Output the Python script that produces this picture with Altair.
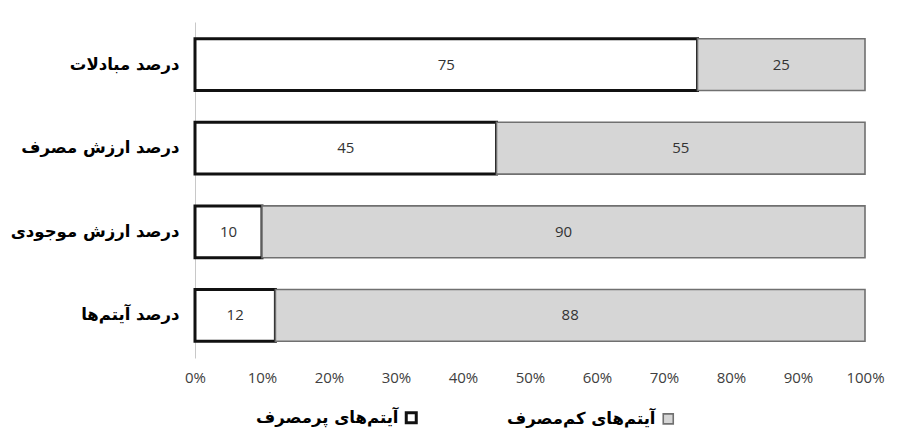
import altair as alt
import pandas as pd

categories = ["درصد مبادلات", "درصد ارزش مصرف", "درصد ارزش موجودی", "درصد آیتم‌ها"]
series_names = ["آیتم‌های پرمصرف", "آیتم‌های کم‌مصرف"]
high_values = [75, 45, 10, 12]
low_values = [25, 55, 90, 88]
x_ticks = [0, 10, 20, 30, 40, 50, 60, 70, 80, 90, 100]

rows = []
for c, h, l in zip(categories, high_values, low_values):
    rows.append({"cat": c, "series": series_names[0], "value": h, "ord": 0})
    rows.append({"cat": c, "series": series_names[1], "value": l, "ord": 1})
df = pd.DataFrame(rows)

base = alt.Chart(df).transform_stack(
    stack="value", groupby=["cat"], as_=["x0", "x1"], sort=[alt.SortField("ord")]
).transform_calculate(mid="(datum.x0 + datum.x1) / 2")

y_enc = alt.Y(
    "cat:N", sort=categories, title=None,
    scale=alt.Scale(paddingInner=0.38, paddingOuter=0.2),
    axis=alt.Axis(labelFont="DejaVu Sans", labelFontWeight="bold", labelFontSize=16.5,
                  labelColor="#000", labelPadding=16, labelLimit=300, ticks=False,
                  domainColor="#c8c8c8", domainWidth=1),
)

bars = base.mark_bar().encode(
    x=alt.X("x0:Q", title=None,
            scale=alt.Scale(domain=[0, 100], nice=False),
            axis=alt.Axis(values=x_ticks, labelExpr="datum.value + '%'", grid=False,
                          domain=False, ticks=False, labelFont="Open Sans", labelFontSize=15,
                          labelColor="#404040", labelPadding=12, labelFlush=False)),
    x2="x1:Q",
    y=y_enc,
    fill=alt.Fill("series:N", scale=alt.Scale(domain=series_names, range=["#ffffff", "#d6d6d6"]),
                  legend=alt.Legend(title=None, orient="none", legendX=208, legendY=387,
                                    direction="horizontal", symbolType="square", symbolSize=100,
                                    labelAlign="right", labelOffset={"expr": "-21"},
                                    labelFont="DejaVu Sans", labelFontWeight="bold", labelFontSize=16.5,
                                    labelColor="#000", columnPadding=84, labelLimit=300)),
    stroke=alt.Stroke("series:N", scale=alt.Scale(domain=series_names, range=["#111111", "#707070"]),
                      legend=None),
    strokeWidth=alt.StrokeWidth("series:N", scale=alt.Scale(domain=series_names, range=[3, 1.6]),
                                legend=None),
)

texts = base.mark_text(font="Open Sans", fontSize=15, color="#333").encode(
    x="mid:Q",
    y=alt.Y("cat:N", sort=categories),
    text="value:Q",
)

chart = (bars + texts).properties(
    width=670, height=336,
    padding={"left": 187, "top": 14, "right": 28, "bottom": 81},
    autosize=alt.AutoSizeParams(type="none"),
).configure_view(stroke=None)

chart.save("out.html", embed_options={"renderer": "svg", "actions": False})
